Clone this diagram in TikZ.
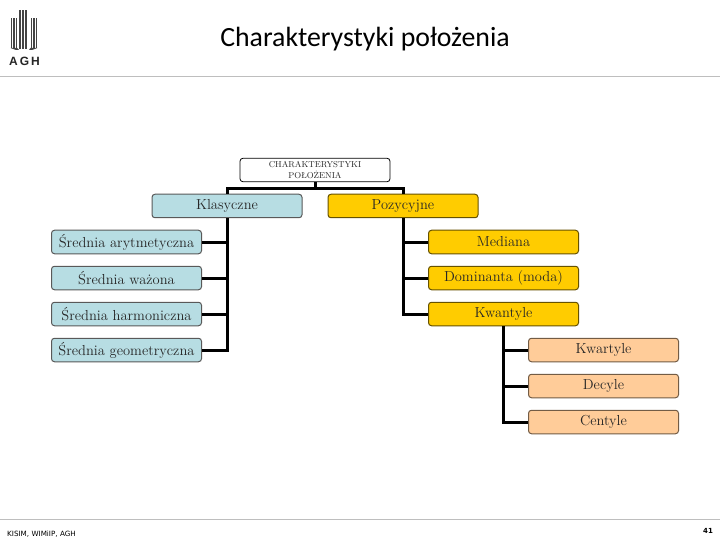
\documentclass[tikz,border=0pt]{standalone}
\usepackage{fontspec}
\newfontfamily\titlefont{Carlito}
\newfontfamily\footfont{DejaVu Sans}
\newfontfamily\logofont{Liberation Sans}
\definecolor{ablue}{HTML}{B7DDE3}
\definecolor{ayellow}{HTML}{FFCC00}
\definecolor{apeach}{HTML}{FFCC99}
\definecolor{aline}{HTML}{BEBEBE}
\definecolor{alogo}{HTML}{444444}
\tikzset{
  boxbase/.style={rounded corners=3pt,minimum width=150pt,minimum height=23.5pt,inner sep=0pt,align=center,font=\fontsize{14.5}{16}\selectfont,text=black!85},
  bluebox/.style={boxbase,draw=black!65,line width=1pt,fill=ablue},
  yellowbox/.style={boxbase,draw=black!60!ayellow,line width=1pt,fill=ayellow},
  peachbox/.style={boxbase,draw=black!55!apeach,line width=1pt,fill=apeach},
  rootbox/.style={boxbase,draw=black,line width=.8pt,fill=white,font=\fontsize{8.6}{11.5}\selectfont},
  conn/.style={draw=black,line width=3pt,line cap=butt,line join=miter},
  rule/.style={draw=aline,line width=1pt},
  logobar/.style={fill=alogo,draw=none}
}
\begin{document}
\begin{tikzpicture}[x=1pt,y=-1pt]
\useasboundingbox (0,0) rectangle (720,540);
\fill[white] (0,0) rectangle (720,540);
\node[rootbox] (root) at (315,170) {CHARAKTERYSTYKI\\POŁOŻENIA};
\node[bluebox] (klas) at (227,206) {Klasyczne};
\node[yellowbox] (poz) at (403,206) {Pozycyjne};
\node[bluebox] (a1) at (126.5,242) {Średnia arytmetyczna};
\node[bluebox] (a2) at (126.5,278) {Średnia ważona};
\node[bluebox] (a3) at (126.5,314) {Średnia harmoniczna};
\node[bluebox] (a4) at (126.5,350) {Średnia geometryczna};
\node[yellowbox] (b1) at (503.5,242) {Mediana};
\node[yellowbox] (b2) at (503.5,278) {Dominanta (moda)};
\node[yellowbox] (b3) at (503.5,314) {Kwantyle};
\node[peachbox] (c1) at (603.5,350) {Kwartyle};
\node[peachbox] (c2) at (603.5,386) {Decyle};
\node[peachbox] (c3) at (603.5,422) {Centyle};
\draw[conn] (root.south) -- ++(0,6) -| (klas.north);
\draw[conn] (root.south) -- ++(0,6) -| (poz.north);
\draw[conn] (klas.south) |- (a1.east);
\draw[conn] (klas.south) |- (a2.east);
\draw[conn] (klas.south) |- (a3.east);
\draw[conn] (klas.south) |- (a4.east);
\draw[conn] (poz.south) |- (b1.west);
\draw[conn] (poz.south) |- (b2.west);
\draw[conn] (poz.south) |- (b3.west);
\draw[conn] (b3.south) |- (c1.west);
\draw[conn] (b3.south) |- (c2.west);
\draw[conn] (b3.south) |- (c3.west);
% header and footer
\node[anchor=center,inner sep=0pt,font=\titlefont\fontsize{27.8}{30}\selectfont] (title) at (365,39) {Charakterystyki położenia};
\draw[rule] (0,77) -- (720,77);
\draw[rule] (0,519) -- (720,519);
\node[anchor=west,inner sep=0pt,font=\footfont\fontsize{7.2}{8}\selectfont] (foot) at (7,534) {KISIM, WIMiIP, AGH};
\node[anchor=center,inner sep=0pt,font=\footfont\bfseries\fontsize{7}{8}\selectfont] (num) at (708,531) {41};
% logo
\foreach \xa in {10.5,13,15.5}{\fill[logobar] (\xa,18) rectangle (\xa+1.9,48);}
\foreach \xa in {19,21.5,24.5}{\fill[logobar] (\xa,10) rectangle (\xa+2,49);}
\foreach \xa in {30.5,33,35.5}{\fill[logobar] (\xa,18) rectangle (\xa+1.9,48);}
\fill[logobar] (10.5,48) -- (16,50) -- (19,50) -- (17,48) -- cycle;
\fill[logobar] (37.4,48) -- (32,50) -- (29,50) -- (30.5,48) -- cycle;
\node[anchor=center,inner sep=0pt,font=\logofont\bfseries\fontsize{12}{12}\selectfont,text=black!85] (logotext) at (24.5,61) {A\,G\,H};
\end{tikzpicture}
\end{document}
